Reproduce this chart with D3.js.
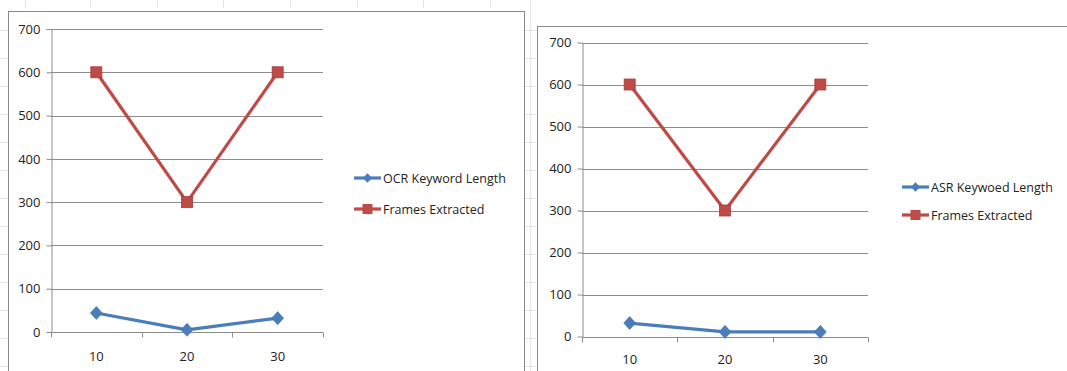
<!DOCTYPE html>
<html>
<head>
<meta charset="utf-8">
<script src="https://cdn.jsdelivr.net/npm/d3@7"></script>
<style>
  html, body { margin: 0; padding: 0; background: #fff; }
  svg { display: block; }
  text { font-family: "Open Sans", "Noto Sans", sans-serif; fill: #222; }
</style>
</head>
<body>
<svg id="chart" width="1067" height="371"></svg>
<script>
// Category labels along the x axis
const categories = ["10", "20", "30"];
const yTicks = [0, 100, 200, 300, 400, 500, 600, 700];

// Left panel: OCR
const ocrKeywordLength = [44, 5, 32];
const ocrFramesExtracted = [600, 300, 600];
// Right panel: ASR
const asrKeywordLength = [32, 11, 11];
const asrFramesExtracted = [600, 300, 600];

const seriesNamesLeft = ["OCR Keyword Length", "Frames Extracted"];
const seriesNamesRight = ["ASR Keywoed Length", "Frames Extracted"];

const BLUE = "#4a7ebb";
const RED = "#be4b48";
const GRID = "#8c8c8c";

const svg = d3.select("#chart");

// faint sheet cell lines behind the chart frames
const sheet = svg.append("g").attr("stroke", "#e4e4e4").attr("stroke-width", 1);
[25, 90, 157, 223, 290, 357, 423, 490].forEach(x => {
  sheet.append("line").attr("x1", x + 0.5).attr("x2", x + 0.5).attr("y1", 0).attr("y2", 8);
});
sheet.append("line").attr("x1", 530.5).attr("x2", 530.5).attr("y1", 0).attr("y2", 371);
[30, 58, 86, 114, 142, 170, 198, 226, 254, 282, 310, 338, 366].forEach(y => {
  sheet.append("line").attr("x1", 525).attr("x2", 536).attr("y1", y + 0.5).attr("y2", y + 0.5);
  sheet.append("line").attr("x1", 0).attr("x2", 7).attr("y1", y + 0.5).attr("y2", y + 0.5);
});

function drawPanel(cfg) {
  const g = svg.append("g");

  // chart area frame
  g.append("rect")
    .attr("x", cfg.frame[0] + 0.5).attr("y", cfg.frame[1] + 0.5)
    .attr("width", cfg.frame[2]).attr("height", cfg.frame[3])
    .attr("fill", "#fff").attr("stroke", "#8a8a8a").attr("stroke-width", 1);

  const x = d3.scaleBand().domain(categories).range(cfg.xRange).paddingInner(0).paddingOuter(0);
  const y = d3.scaleLinear().domain([0, 700]).range(cfg.yRange);

  // y axis with tick labels
  const yAxis = d3.axisLeft(y).tickValues(yTicks).tickSize(5).tickSizeOuter(0).tickFormat(d3.format("d"));
  const ya = g.append("g").attr("transform", `translate(${cfg.xRange[0] + 0.5},0)`).call(yAxis);
  ya.select(".domain").attr("stroke", GRID);
  ya.selectAll(".tick line").attr("stroke", GRID);
  ya.selectAll(".tick text").attr("x", -11).attr("font-size", 13).attr("fill", "#222")
    .attr("font-family", "'Open Sans', sans-serif");

  // horizontal gridlines
  g.append("g").selectAll("line").data(yTicks.filter(d => d > 0)).join("line")
    .attr("x1", cfg.xRange[0]).attr("x2", cfg.xRange[1])
    .attr("y1", d => Math.round(y(d)) + 0.5).attr("y2", d => Math.round(y(d)) + 0.5)
    .attr("stroke", GRID).attr("stroke-width", 1);

  // x axis with ticks at category boundaries
  const xa = g.append("g").attr("transform", `translate(0,${Math.round(y(0)) + 0.5})`);
  xa.append("line").attr("x1", cfg.xRange[0]).attr("x2", cfg.xRange[1]).attr("stroke", GRID);
  const bounds = categories.map(c => x(c)).concat([x.range()[1]]);
  xa.selectAll("line.tk").data(bounds).join("line").attr("class", "tk")
    .attr("x1", d => Math.round(d) + 0.5).attr("x2", d => Math.round(d) + 0.5)
    .attr("y1", 0).attr("y2", 5).attr("stroke", GRID);
  g.append("g").selectAll("text").data(categories).join("text")
    .attr("x", d => x(d) + x.bandwidth() / 2)
    .attr("y", cfg.xLabelY)
    .attr("text-anchor", "middle").attr("font-size", 13)
    .text(d => d);

  const cx = d => x(d) + x.bandwidth() / 2;
  const line = d3.line().x((d, i) => cx(categories[i])).y(d => y(d));

  // Frames Extracted (red, squares)
  g.append("path").datum(cfg.red).attr("d", line)
    .attr("fill", "none").attr("stroke", RED).attr("stroke-width", 3.2).attr("stroke-linejoin", "round");
  g.append("g").selectAll("rect").data(cfg.red).join("rect")
    .attr("x", (d, i) => cx(categories[i]) - 5.5).attr("y", d => y(d) - 5.5)
    .attr("width", 11).attr("height", 11)
    .attr("fill", RED).attr("stroke", "#a63c39").attr("stroke-width", 0.8);

  // Keyword length (blue, diamonds)
  g.append("path").datum(cfg.blue).attr("d", line)
    .attr("fill", "none").attr("stroke", BLUE).attr("stroke-width", 3.2).attr("stroke-linejoin", "round");
  const diamond = d3.symbol().type(d3.symbolDiamond2).size(90);
  g.append("g").selectAll("path").data(cfg.blue).join("path")
    .attr("d", diamond)
    .attr("transform", (d, i) => `translate(${cx(categories[i])},${y(d)}) scale(1,1.1)`)
    .attr("fill", BLUE).attr("stroke", "#3f72ad").attr("stroke-width", 0.6);

  // legend
  const lg = g.append("g");
  const items = [
    { name: cfg.names[0], color: BLUE, shape: "diamond", y: cfg.legend.y[0] },
    { name: cfg.names[1], color: RED, shape: "square", y: cfg.legend.y[1] }
  ];
  items.forEach(it => {
    lg.append("line")
      .attr("x1", cfg.legend.x).attr("x2", cfg.legend.x + 27)
      .attr("y1", it.y).attr("y2", it.y)
      .attr("stroke", it.color).attr("stroke-width", 3.2);
    const mx = cfg.legend.x + 13.5;
    if (it.shape === "diamond") {
      lg.append("path").attr("d", d3.symbol().type(d3.symbolDiamond2).size(55))
        .attr("transform", `translate(${mx},${it.y})`).attr("fill", it.color);
    } else {
      lg.append("rect").attr("x", mx - 5).attr("y", it.y - 5)
        .attr("width", 10).attr("height", 10).attr("fill", it.color);
    }
    lg.append("text").attr("x", cfg.legend.x + 29).attr("y", it.y)
      .attr("dy", "0.36em").attr("font-size", 12.5).text(it.name);
  });
}

drawPanel({
  frame: [8, 11, 516, 380],
  xRange: [51, 323],
  yRange: [332, 29],
  xLabelY: 361,
  blue: ocrKeywordLength,
  red: ocrFramesExtracted,
  names: seriesNamesLeft,
  legend: { x: 354, y: [178, 209] }
});

drawPanel({
  frame: [537, 26, 540, 360],
  xRange: [582, 868],
  yRange: [336.5, 42.5],
  xLabelY: 364,
  blue: asrKeywordLength,
  red: asrFramesExtracted,
  names: seriesNamesRight,
  legend: { x: 902, y: [187, 215] }
});
</script>
</body>
</html>
